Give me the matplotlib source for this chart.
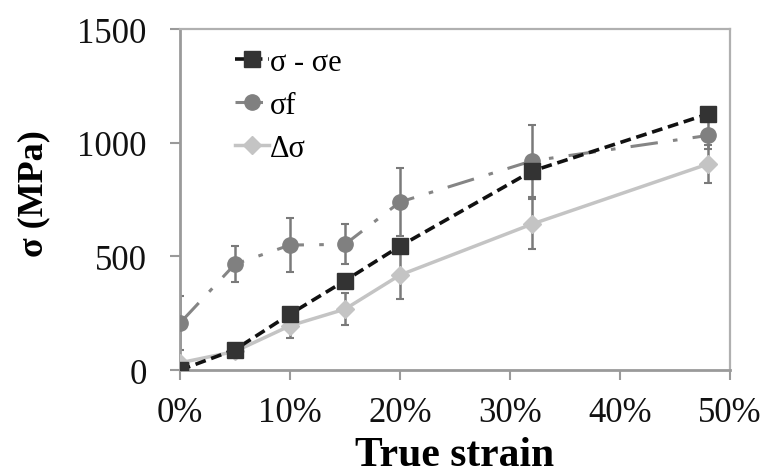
import matplotlib.pyplot as plt
from matplotlib.ticker import PercentFormatter

plt.rcParams['font.family'] = ['Liberation Serif', 'DejaVu Serif']

strain = [0, 5, 10, 15, 20, 32, 48]  # true strain, %
sig_minus_sige = [0, 90, 246, 393, 545, 875, 1126]
sig_f = [207, 466, 550, 553, 739, 920, 1032]
sig_f_err = [120, 80, 117, 88, 150, 158, 60]
delta_sig = [32, 82, 195, 268, 418, 642, 906]
delta_sig_err = [20, 20, 53, 70, 105, 110, 84]

labels = ['σ - σe', 'σf', 'Δσ']

fig = plt.figure(figsize=(7.61, 4.77), dpi=100)
ax = fig.add_axes([0.2365, 0.222, 0.7225, 0.715])

ax.errorbar(strain, sig_f, yerr=sig_f_err, fmt='none', ecolor='#7a7a7a',
            elinewidth=1.8, capsize=3, capthick=1.5, zorder=2)
ax.errorbar(strain, delta_sig, yerr=delta_sig_err, fmt='none', ecolor='#7a7a7a',
            elinewidth=1.8, capsize=3, capthick=1.5, zorder=2)

ax.plot(strain, sig_f, color='#858585', lw=2.2, ls=(0, (9, 5, 1.5, 5)),
        marker='o', ms=11, mfc='#808080', mec='#808080', label=labels[1], zorder=3)
ax.plot(strain, delta_sig, color='#c4c4c4', lw=2.5, ls='-',
        marker='D', ms=9, mfc='#c4c4c4', mec='#c4c4c4', label=labels[2], zorder=4)
ax.plot(strain, sig_minus_sige, color='#111111', lw=2.6, ls=(0, (3, 1.6)),
        marker='s', ms=11, mfc='#333333', mec='#333333', label=labels[0], zorder=5)

ax.set_xlim(0, 50)
ax.set_ylim(0, 1500)
ax.set_xticks([0, 10, 20, 30, 40, 50])
ax.set_yticks([0, 500, 1000, 1500])
ax.xaxis.set_major_formatter(PercentFormatter(decimals=0))

for s in ax.spines.values():
    s.set_color('#b0b0b0')
    s.set_linewidth(1.6)
for s in ['left', 'bottom']:
    ax.spines[s].set_color('#9a9a9a')
    ax.spines[s].set_linewidth(2)
ax.tick_params(direction='out', length=7, width=1.5, color='#9a9a9a',
               labelsize=25, labelcolor='#111111')
ax.tick_params(axis='x', pad=12)
ax.tick_params(axis='y', pad=17)

ax.set_xlabel('True strain', fontsize=30, fontweight='bold', labelpad=5)
ax.set_ylabel('σ (MPa)', fontsize=26, fontweight='bold')
ax.yaxis.set_label_coords(-0.235, 0.52)

h, l = ax.get_legend_handles_labels()
order = [2, 0, 1]
ax.legend([h[i] for i in order], [l[i] for i in order], loc='upper left',
          bbox_to_anchor=(0.05, 1.025), frameon=False, fontsize=22,
          handlelength=1.1, handletextpad=0.05, labelspacing=0.45)

fig.savefig('out.png', dpi=100)
